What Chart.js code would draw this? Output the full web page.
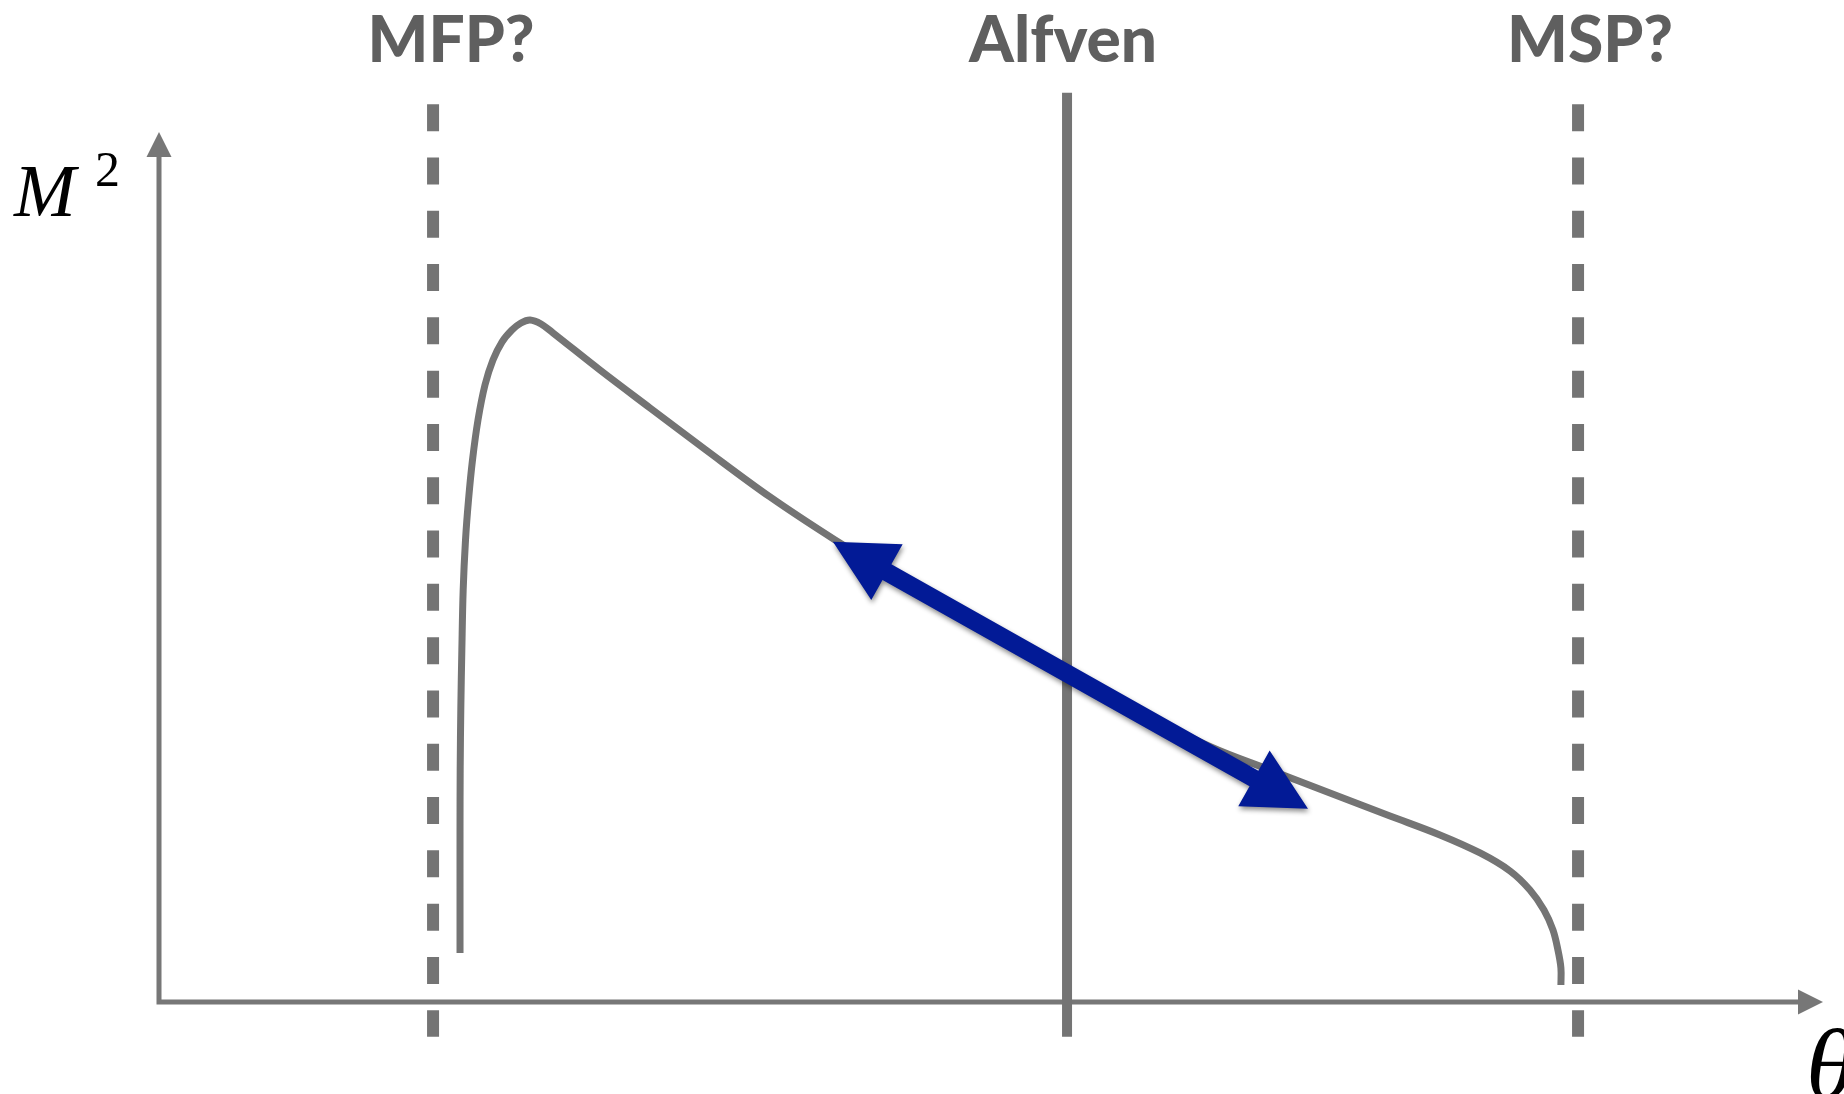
<!DOCTYPE html>
<html>
<head>
<meta charset="utf-8">
<title>M² vs θ</title>
<script src="https://cdn.jsdelivr.net/npm/chart.js@4"></script>
<style>
  html, body { margin: 0; padding: 0; background: #ffffff; }
  canvas { display: block; }
</style>
</head>
<body>
<canvas id="grafico" width="1844" height="1094"></canvas>
<script>
/* curva M^2(theta) */
var curveTheta = [18.09, 18.09, 18.09, 18.10, 18.14, 18.20, 18.28, 18.42, 18.60, 18.84, 19.17, 19.59, 20.07, 20.61, 21.21, 21.75, 22.30, 22.96, 23.68,
                  26.50, 29.51, 32.87, 36.72, 40.63, 44.53, 48.14, 51.14, 54.57, 58.95, 63.22, 66.77, 70.37, 73.98, 76.98, 79.39, 81.19, 82.39, 83.23, 83.77, 84.07, 84.25, 84.25];
var curveM2 =    [5.63, 12.87, 19.77, 26.67, 34.02, 40.46, 47.36, 53.10, 57.70, 62.30, 66.90, 70.92, 73.79, 75.86, 77.24, 78.05, 78.39, 77.93, 76.90,
                  72.64, 68.28, 63.45, 58.05, 53.10, 48.51, 44.60, 41.38, 37.70, 33.33, 29.31, 26.67, 24.02, 21.38, 19.20, 17.13, 15.06, 12.87, 10.57, 8.28, 5.98, 3.91, 1.95];

/* linhas verticais */
var markerNames = ["MFP?", "Alfven", "MSP?"];
var markerTheta = [16.47, 54.57, 85.28];
var markerDashed = [true, false, true];
var markerTop = [103.2, 104.5, 103.2];
var markerBottom = [-4.0, -4.0, -4.0];

/* seta dupla (azul) */
var arrowFrom = [40.5, 52.9];
var arrowTo = [69.05, 22.2];

var grey = '#747474';

var datasets = [];
for (var i = 0; i < markerNames.length; i++) {
  datasets.push({
    label: markerNames[i],
    data: [{x: markerTheta[i], y: markerTop[i]}, {x: markerTheta[i], y: markerBottom[i]}],
    showLine: true,
    borderColor: grey,
    borderWidth: markerDashed[i] ? 12 : 10,
    borderDash: markerDashed[i] ? [27, 26.3] : [],
    borderCapStyle: 'butt',
    pointRadius: 0,
    clip: false
  });
}

var curveData = [];
for (var j = 0; j < curveTheta.length; j++) {
  curveData.push({x: curveTheta[j], y: curveM2[j]});
}
datasets.push({
  label: 'M2',
  data: curveData,
  showLine: true,
  borderColor: grey,
  borderWidth: 7,
  tension: 0.35,
  pointRadius: 0,
  clip: false
});

/* eixos com setas */
var eixos = {
  id: 'eixos',
  beforeDatasetsDraw: function(chart) {
    var c = chart.ctx, xs = chart.scales.x, ys = chart.scales.y;
    var x0 = xs.getPixelForValue(0), y0 = ys.getPixelForValue(0);
    var xEnd = xs.getPixelForValue(xs.max), yEnd = ys.getPixelForValue(ys.max);
    c.save();
    c.strokeStyle = '#777777';
    c.fillStyle = '#777777';
    c.lineWidth = 5;
    c.beginPath();
    c.moveTo(x0, y0);
    c.lineTo(x0, yEnd + 22);
    c.moveTo(x0 - 2.5, y0);
    c.lineTo(xEnd - 22, y0);
    c.stroke();
    c.beginPath();
    c.moveTo(x0, yEnd);
    c.lineTo(x0 - 12.5, yEnd + 25);
    c.lineTo(x0 + 12.5, yEnd + 25);
    c.closePath();
    c.fill();
    c.beginPath();
    c.moveTo(xEnd, y0);
    c.lineTo(xEnd - 25, y0 - 12.5);
    c.lineTo(xEnd - 25, y0 + 12.5);
    c.closePath();
    c.fill();

    /* rótulos dos eixos */
    c.fillStyle = '#000000';
    c.textBaseline = 'alphabetic';
    c.textAlign = 'left';
    c.font = 'italic 74px "Liberation Serif", "DejaVu Serif", serif';
    c.fillText('M', 14, 216);
    c.font = '50px "Liberation Serif", "DejaVu Serif", serif';
    c.fillText('2', 95, 186);
    c.font = 'italic 100px "Liberation Serif", "DejaVu Serif", serif';
    c.fillText('θ', 1806, 1098);

    /* nomes das linhas verticais */
    var nudge = [18, -4, 12];
    c.fillStyle = '#5f5f5f';
    c.textAlign = 'center';
    c.font = '900 64px Lato, "Open Sans", sans-serif';
    for (var k = 0; k < markerNames.length; k++) {
      c.fillText(markerNames[k], xs.getPixelForValue(markerTheta[k]) + nudge[k], 62);
    }
    c.restore();
  },
  afterDatasetsDraw: function(chart) {
    var c = chart.ctx, xs = chart.scales.x, ys = chart.scales.y;
    var ax = xs.getPixelForValue(arrowFrom[0]), ay = ys.getPixelForValue(arrowFrom[1]);
    var bx = xs.getPixelForValue(arrowTo[0]), by = ys.getPixelForValue(arrowTo[1]);
    var ang = Math.atan2(by - ay, bx - ax);
    var len = Math.hypot(bx - ax, by - ay);
    var head = 62, half = 32, shaft = 9;
    c.save();
    c.translate(ax, ay);
    c.rotate(ang);
    c.shadowColor = 'rgba(0,0,0,0.45)';
    c.shadowBlur = 5;
    c.shadowOffsetX = 1;
    c.shadowOffsetY = 3;
    c.fillStyle = '#021a96';
    c.beginPath();
    c.moveTo(0, 0);
    c.lineTo(head, -half);
    c.lineTo(head, -shaft);
    c.lineTo(len - head, -shaft);
    c.lineTo(len - head, -half);
    c.lineTo(len, 0);
    c.lineTo(len - head, half);
    c.lineTo(len - head, shaft);
    c.lineTo(head, shaft);
    c.lineTo(head, half);
    c.closePath();
    c.fill();
    c.restore();
  }
};

var ctx = document.getElementById('grafico').getContext('2d');
var chart = new Chart(ctx, {
  type: 'scatter',
  data: { datasets: datasets },
  options: {
    responsive: false,
    animation: false,
    devicePixelRatio: 1,
    layout: { padding: { left: 159, right: 21, top: 132, bottom: 92 } },
    scales: {
      x: { type: 'linear', min: 0, max: 100, display: false },
      y: { type: 'linear', min: 0, max: 100, display: false }
    },
    plugins: {
      legend: { display: false },
      tooltip: { enabled: false }
    }
  },
  plugins: [eixos]
});
</script>
</body>
</html>
